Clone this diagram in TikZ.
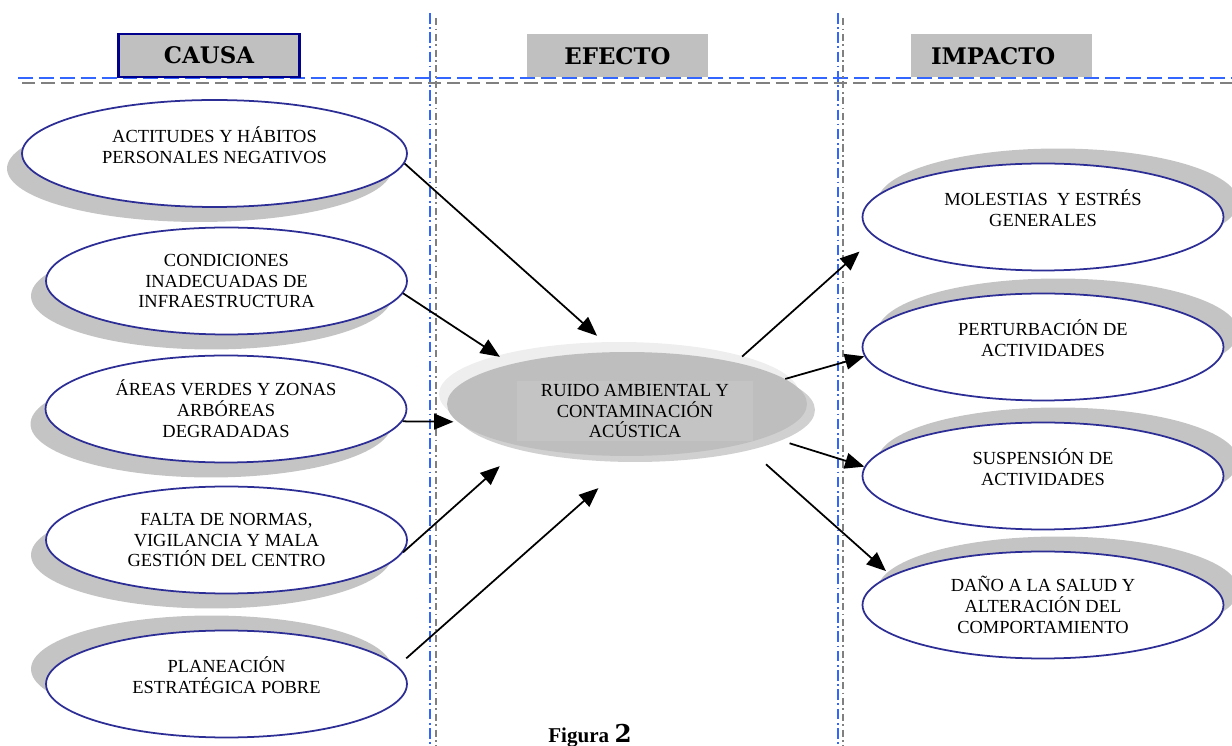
\documentclass[tikz,border=0pt]{standalone}
\usepackage{fontspec}
\setmainfont{Liberation Serif}
\newfontfamily\cabfont{DejaVu Serif}
\usetikzlibrary{arrows.meta,shapes.geometric,shadows}
\definecolor{azulborde}{RGB}{45,45,150}
\definecolor{azulcab}{RGB}{0,0,140}
\definecolor{grisclaro}{RGB}{192,192,192}
\definecolor{sombra}{RGB}{196,196,196}
\definecolor{grisruido}{RGB}{190,190,190}
\definecolor{gristexto}{RGB}{196,196,196}
\definecolor{halo}{RGB}{238,238,238}
\definecolor{sombraruido}{RGB}{208,208,208}
\definecolor{lineaazul}{RGB}{51,102,255}
\definecolor{lineagris}{RGB}{128,128,128}
\newcommand{\hueco}{\\[-2pt]\mbox{}}
\tikzset{burbuja/.style={ellipse, draw=azulborde, line width=1pt, fill=white, minimum width=7.22cm, minimum height=2.14cm, inner sep=0pt, align=center, font=\fontsize{10.5}{11.9}\selectfont},
	sombraizq/.style={general shadow={fill=sombra, draw=none, shadow xshift=-.3cm, shadow yshift=-.3cm}},
	sombraarriba/.style={general shadow={fill=sombra, draw=none, shadow xshift=-.3cm, shadow yshift=.3cm}},
	sombrader/.style={general shadow={fill=sombra, draw=none, shadow xshift=.3cm, shadow yshift=.3cm}},
	cabecera/.style={fill=grisclaro, minimum width=3.62cm, minimum height=0.86cm, inner sep=0pt, font=\cabfont\bfseries\fontsize{13}{15}\selectfont},
	flecha/.style={-{Triangle[length=11pt,width=9pt]}, line width=1pt}}

\begin{document}
\begin{tikzpicture}[x=0.02cm, y=-0.02cm]
	\useasboundingbox (0,0) rectangle (1232,746);
	% guias
	\draw[lineaazul, line width=1.1pt, dash pattern=on 8.5pt off 3.4pt] (18,78) -- (1232,78);
	\draw[lineagris, line width=1.1pt, dash pattern=on 7.5pt off 3.5pt] (22,83) -- (1232,83);
	\foreach \xa/\xb in {430/436, 838/843} {
		\draw[lineaazul, line width=0.9pt, dash pattern=on 6pt off 2pt on 1pt off 2pt] (\xa,13) -- (\xa,746);
		\draw[lineagris, line width=0.9pt, dash pattern=on 4pt off 2pt on 1pt off 2pt] (\xb,18) -- (\xb,746);
	}
	\node[cabecera, draw=azulcab, line width=1.2pt] (causa) at (209,55.5) {CAUSA};
	\node[cabecera] (efecto) at (617.5,56) {EFECTO};
	\node[cabecera, text width=2.82cm, align=left, inner xsep=0.4cm] (impacto) at (1001.5,56) {IMPACTO};
	% causas
	\node[burbuja, sombraizq, minimum width=7.7cm] (c1) at (214.5,153.5) {ACTITUDES Y HÁBITOS\\PERSONALES NEGATIVOS\hueco};
	\node[burbuja, sombraizq] (c2) at (226.5,281) {CONDICIONES\\INADECUADAS DE\\INFRAESTRUCTURA};
	\node[burbuja, sombraizq] (c3) at (226,409) {ÁREAS VERDES Y ZONAS\\ARBÓREAS\\DEGRADADAS};
	\node[burbuja, sombraizq] (c4) at (226.5,540) {FALTA DE NORMAS,\\VIGILANCIA Y MALA\\GESTIÓN DEL CENTRO};
	\node[burbuja, sombraarriba] (c5) at (226.5,684) {PLANEACIÓN\\ESTRATÉGICA POBRE\hueco};
	% efecto
	\node[ellipse, fill=grisruido, minimum width=7.2cm, minimum height=2.08cm, inner sep=0pt,
		general shadow={fill=sombraruido, draw=none, shadow xshift=.16cm, shadow yshift=-.12cm},
		general shadow={fill=halo, draw=none, shadow xshift=-.16cm, shadow yshift=.2cm}] (ruido) at (627,404) {};
	\node[fill=gristexto, minimum width=4.72cm, minimum height=1.2cm, inner sep=0pt, align=center, font=\fontsize{10.5}{11.9}\selectfont] (ruidotexto) at (635,411) {RUIDO AMBIENTAL Y\\CONTAMINACIÓN\\ACÚSTICA};
	% impactos
	\node[burbuja, sombrader] (r1) at (1043,217) {MOLESTIAS\ \ Y ESTRÉS\\GENERALES\hueco};
	\node[burbuja, sombrader] (r2) at (1043,347) {PERTURBACIÓN DE\\ACTIVIDADES\hueco};
	\node[burbuja, sombrader] (r3) at (1043,476) {SUSPENSIÓN DE\\ACTIVIDADES\hueco};
	\node[burbuja, sombrader] (r4) at (1043,605) {DAÑO A LA SALUD Y\\ALTERACIÓN DEL\\COMPORTAMIENTO};
	% flechas
	\draw[flecha, shorten >=0.48cm] (c1.-3) -- (ruido.103);
	\draw[flecha, shorten >=0.26cm] (c2.-4) -- (ruido.161);
	\draw[flecha, shorten >=0.08cm] (c3.-4) -- (ruido.186);
	\draw[flecha, shorten >=0.59cm] (c4.-4) -- (ruido.202);
	\draw[flecha, shorten <=0.23cm, shorten >=0.96cm] (c5.6) -- (ruido.-82);
	\draw[flecha, shorten <=0.17cm, shorten >=0.42cm] (ruido.21) -- (r1.187);
	\draw[flecha] (ruido.9) -- (r2.183);
	\draw[flecha, shorten <=0.45cm] (ruido.-13) -- (r3.177);
	\draw[flecha, shorten <=0.61cm, shorten >=0.13cm] (ruido.-19) -- (r4.169);
	\node[font=\bfseries\fontsize{12}{14}\selectfont] (figura) at (590,736) {Figura {\cabfont\fontsize{14}{14}\selectfont 2}};
\end{tikzpicture}
\end{document}
